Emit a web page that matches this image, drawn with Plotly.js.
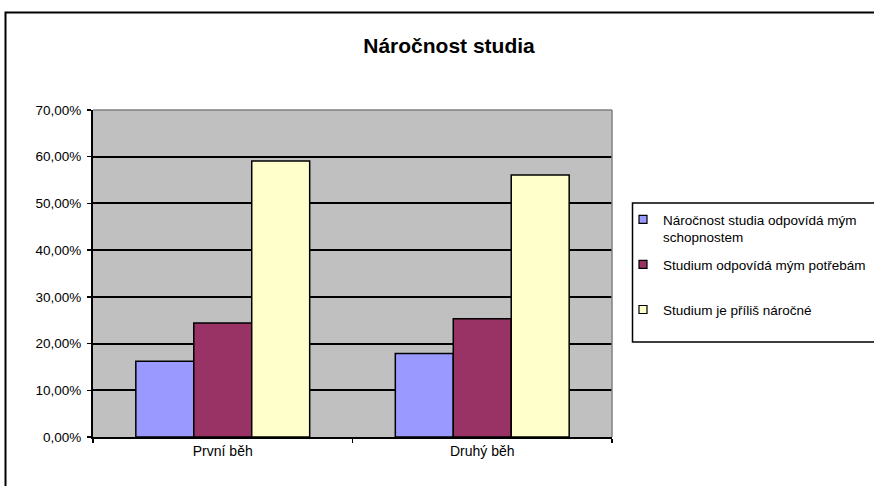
<!DOCTYPE html>
<html>
<head>
<meta charset="utf-8">
<script src="https://cdn.plot.ly/plotly-3.0.1.min.js"></script>
<style>
html,body{margin:0;padding:0;background:#fff;}
#chart{width:874px;height:486px;}
</style>
</head>
<body>
<div id="chart"></div>
<script>
const categories = ["První běh", "Druhý běh"];
const seriesNames = [
  "Náročnost studia odpovídá mým<br>schopnostem",
  "Studium odpovídá mým potřebám<br> ",
  "Studium je příliš náročné"
];
const seriesA = [0.162, 0.179];
const seriesB = [0.244, 0.253];
const seriesC = [0.591, 0.561];
const seriesColors = ["#9999FF", "#993366", "#FFFFCC"];
const yTicks = [0, 0.1, 0.2, 0.3, 0.4, 0.5, 0.6, 0.7];
const titleText = "<b>Náročnost studia</b>";

const FONT = "Liberation Sans, Arial, sans-serif";
const values = [seriesA, seriesB, seriesC];

const traces = [];
values.forEach((v, i) => {
  traces.push({
    type: "bar", x: categories, y: v, name: seriesNames[i],
    marker: {color: seriesColors[i], line: {color: "#000", width: 1.5}},
    showlegend: false, hoverinfo: "y"
  });
});
values.forEach((v, i) => {
  traces.push({
    type: "scatter", mode: "markers", x: [null], y: [null], name: seriesNames[i],
    legendgroup: "g" + i,
    marker: {symbol: "square", size: 8, color: seriesColors[i], line: {color: "#000", width: 1.2}},
    showlegend: true
  });
});

const L = 93, R = 612, T = 110, B = 437, W = 874, H = 486;
const pw = R - L, ph = B - T;
const px = v => (v - L) / pw;
const py = v => (B - v) / ph;

const layout = {
  width: W, height: H,
  margin: {l: L, r: W - R, t: T, b: H - B, autoexpand: false},
  paper_bgcolor: "#fff",
  plot_bgcolor: "#C0C0C0",
  separators: ", ",
  font: {family: FONT, color: "#000", size: 13},
  title: {text: titleText, font: {family: FONT, size: 21, color: "#000"},
          x: 449 / W, xanchor: "center", xref: "container",
          y: 1 - 46 / H, yanchor: "middle", yref: "container"},
  barmode: "group", bargap: 0.33, bargroupgap: 0,
  xaxis: {
    type: "category", showgrid: false, showline: true, linecolor: "#000", linewidth: 2,
    ticks: "outside", tickson: "boundaries", ticklen: 4, tickcolor: "#000", tickwidth: 1.5,
    tickfont: {size: 14}, zeroline: false, fixedrange: true
  },
  yaxis: {
    range: [0, 0.7], tickvals: yTicks, tickformat: ".2%",
    showgrid: true, gridcolor: "#000", gridwidth: 2,
    showline: true, linecolor: "#000", linewidth: 2,
    ticks: "outside", ticklen: 4, tickcolor: "#000", tickwidth: 1.5,
    ticklabelstandoff: 3,
    tickfont: {size: 13.5}, zeroline: false, fixedrange: true
  },
  legend: {
    x: px(623), y: py(204), xanchor: "left", yanchor: "top",
    bgcolor: "rgba(0,0,0,0)", borderwidth: 0,
    font: {family: FONT, size: 13.5, color: "#000"},
    traceorder: "grouped", tracegroupgap: 7, valign: "top"
  },
  shapes: [
    {type: "line", xref: "paper", yref: "paper", x0: 0, x1: 1, y0: 1, y1: 1,
     line: {color: "#808080", width: 1.5}, layer: "above"},
    {type: "line", xref: "paper", yref: "paper", x0: 1, x1: 1, y0: 0, y1: 1,
     line: {color: "#808080", width: 1.5}, layer: "above"},
    {type: "rect", xref: "paper", yref: "paper", x0: px(632.5), x1: px(W + 20), y0: py(342), y1: py(203),
     line: {color: "#000", width: 1.5}, fillcolor: "rgba(0,0,0,0)", layer: "above"},
    {type: "rect", xref: "paper", yref: "paper", x0: px(5.5), x1: px(W + 20), y0: py(H + 20), y1: py(12.5),
     line: {color: "#000", width: 2}, fillcolor: "rgba(0,0,0,0)", layer: "above"}
  ]
};

Plotly.newPlot("chart", traces, layout, {displayModeBar: false, staticPlot: true});
</script>
</body>
</html>
